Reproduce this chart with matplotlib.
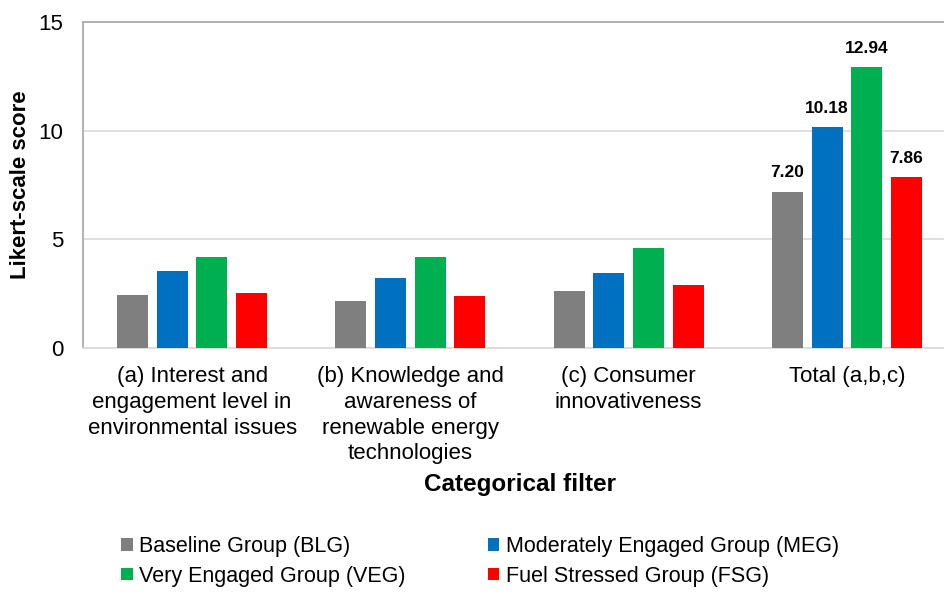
import numpy as np
import matplotlib
matplotlib.use("Agg")
import matplotlib.pyplot as plt

plt.rcParams['font.family'] = ['Liberation Sans', 'DejaVu Sans']

# данные
categories = ["(a) Interest and\nengagement level in\nenvironmental issues",
              "(b) Knowledge and\nawareness of\nrenewable energy\ntechnologies",
              "(c) Consumer\ninnovativeness",
              "Total (a,b,c)"]
groups = ["Baseline Group (BLG)", "Moderately Engaged Group (MEG)",
          "Very Engaged Group (VEG)", "Fuel Stressed Group (FSG)"]
blg = [2.46, 2.14, 2.61, 7.20]
meg = [3.52, 3.21, 3.43, 10.18]
veg = [4.17, 4.18, 4.58, 12.94]
fsg = [2.51, 2.41, 2.92, 7.86]
colors = ["#7F7F7F", "#0070C0", "#00B050", "#FF0000"]

series = [blg, meg, veg, fsg]

fig = plt.figure(figsize=(9.45, 5.93), dpi=100)
ax = fig.add_axes([83 / 945, 1 - 348 / 593, (956 - 83) / 945, (348 - 22) / 593])

x = np.arange(len(categories))
step = 0.182
width = 0.142
handles = []
for j, (vals, col, name) in enumerate(zip(series, colors, groups)):
    bars = ax.bar(x + (j - 1.5) * step, vals, width, color=col, label=name,
                  edgecolor='none', zorder=3)
    handles.append(bars)
    # подписи только для итоговой группы
    ax.bar_label(bars, labels=[""] * 3 + [f"{vals[3]:.2f}"], padding=8,
                 fontsize=12.5, fontweight='bold')

ax.set_xlim(-0.5, 3.5)
ax.set_ylim(0, 15)
ax.set_yticks([0, 5, 10, 15])
ax.set_xticks(x)
ax.set_xticklabels(categories, fontsize=16, linespacing=1.3)
ax.tick_params(axis='y', length=0, pad=14, labelsize=16)
ax.tick_params(axis='x', length=0, pad=13)
ax.grid(axis='y', color='#D9D9D9', linewidth=1.2, zorder=0)

for s in ['left', 'top']:
    ax.spines[s].set_color('#A6A6A6')
    ax.spines[s].set_linewidth(1.2)
ax.spines['bottom'].set_color('#D9D9D9')
ax.spines['bottom'].set_linewidth(1.2)
ax.spines['right'].set_visible(False)

ax.set_ylabel("Likert-scale score", fontsize=16, fontweight='bold', va='center')
ax.yaxis.set_label_coords(21 / 945, (593 - 185) / 593, transform=fig.transFigure)
fig.text(520 / 945, 1 - 484 / 593, "Categorical filter", fontsize=17.5,
         fontweight='bold', ha='center', va='center')

order = [0, 2, 1, 3]
fig.legend([handles[i] for i in order], [groups[i] for i in order],
           ncol=2, loc='upper left', bbox_to_anchor=(121 / 945, 1 - 536 / 593),
           frameon=False, fontsize=15.5, handlelength=0.55, handleheight=0.55,
           handletextpad=0.3, columnspacing=3.8, labelspacing=0.4,
           borderpad=0, borderaxespad=0)

fig.savefig("out.png", dpi=100)
